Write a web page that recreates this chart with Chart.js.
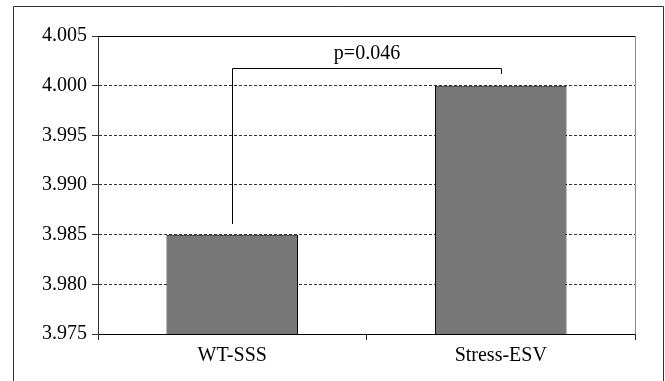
<!DOCTYPE html>
<html>
<head>
<meta charset="utf-8">
<script src="https://cdn.jsdelivr.net/npm/chart.js@4/dist/chart.umd.min.js"></script>
<style>
html,body{margin:0;padding:0;background:#fff;}
canvas{display:block;}
</style>
</head>
<body>
<canvas id="c" width="665" height="381"></canvas>
<script>
const categories = ["WT-SSS", "Stress-ESV"];
const values = [3.985, 4.000];
const yTicks = [3.975, 3.980, 3.985, 3.990, 3.995, 4.000, 4.005];
const pLabel = "p=0.046";
const bracketTop = 4.0018;
const bracketLeftEnd = 3.9861;
const bracketRightEnd = 4.0012;

const FONT = "'Liberation Serif', 'Times New Roman', serif";
Chart.defaults.font.family = FONT;
Chart.defaults.font.size = 20;
Chart.defaults.color = '#000';

const framePlugin = {
  id: 'frame',
  beforeDraw(chart) {
    const ctx = chart.ctx;
    ctx.save();
    ctx.fillStyle = '#fff';
    ctx.fillRect(0, 0, chart.width, chart.height);
    ctx.strokeStyle = '#333';
    ctx.lineWidth = 1;
    ctx.beginPath();
    ctx.moveTo(13.5, chart.height + 5);
    ctx.lineTo(13.5, 6.5);
    ctx.lineTo(663.5, 6.5);
    ctx.lineTo(663.5, chart.height + 5);
    ctx.stroke();
    ctx.restore();
  },
  afterDraw(chart) {
    const ctx = chart.ctx;
    const a = chart.chartArea;
    const xs = chart.scales.x, ys = chart.scales.y;
    ctx.save();
    ctx.lineWidth = 1;
    ctx.strokeStyle = '#000';
    ctx.beginPath();
    ctx.moveTo(Math.round(a.left) + 0.5, Math.round(a.top) + 0.5);
    ctx.lineTo(Math.round(a.right) + 0.5, Math.round(a.top) + 0.5);
    ctx.stroke();
    ctx.strokeStyle = '#888';
    ctx.beginPath();
    ctx.moveTo(Math.round(a.right) + 0.5, Math.round(a.top) + 0.5);
    ctx.lineTo(Math.round(a.right) + 0.5, Math.round(a.bottom) + 0.5);
    ctx.stroke();
    const x0 = Math.round(xs.getPixelForValue(0)) + 0.5;
    const x1 = Math.round(xs.getPixelForValue(1)) + 0.5;
    const yt = Math.round(ys.getPixelForValue(bracketTop)) + 0.5;
    const yl = Math.round(ys.getPixelForValue(bracketLeftEnd));
    const yr = Math.round(ys.getPixelForValue(bracketRightEnd));
    ctx.strokeStyle = '#000';
    ctx.beginPath();
    ctx.moveTo(x0, yl);
    ctx.lineTo(x0, yt);
    ctx.lineTo(x1, yt);
    ctx.lineTo(x1, yr);
    ctx.stroke();
    ctx.fillStyle = '#000';
    ctx.font = '20px ' + FONT;
    ctx.textAlign = 'center';
    ctx.textBaseline = 'alphabetic';
    ctx.fillText(pLabel, (x0 + x1) / 2, yt - 10);
    ctx.restore();
  }
};

new Chart(document.getElementById('c'), {
  type: 'bar',
  data: {
    labels: categories,
    datasets: [{
      data: values,
      backgroundColor: '#777777',
      borderColor: '#000',
      borderWidth: 1,
      borderSkipped: false,
      barPercentage: 0.49,
      categoryPercentage: 1.0
    }]
  },
  options: {
    responsive: false,
    animation: false,
    devicePixelRatio: 1,
    layout: { padding: { left: 0, top: 36, right: 30, bottom: 0 } },
    plugins: { legend: { display: false }, tooltip: { enabled: false } },
    scales: {
      x: {
        type: 'category',
        offset: true,
        grid: { offset: true, drawOnChartArea: false, drawTicks: true, tickLength: 6, tickColor: '#222', color: '#222' },
        border: { display: true, color: '#000', width: 1 },
        ticks: { color: '#000', font: { family: FONT, size: 20 }, padding: 4, maxRotation: 0 },
        afterFit(scale) { scale.height = 47; }
      },
      y: {
        type: 'linear',
        min: 3.975,
        max: 4.005,
        afterBuildTicks(scale) { scale.ticks = yTicks.map(v => ({ value: v })); },
        grid: {
          color: (ctx) => (ctx.index === 0 || ctx.index === yTicks.length - 1) ? 'rgba(0,0,0,0)' : '#333',
          tickColor: '#333',
          tickLength: 6,
          drawTicks: true
        },
        border: { display: true, color: '#333', width: 1, dash: [3, 2] },
        ticks: {
          color: '#000',
          font: { family: FONT, size: 20 },
          padding: 5,
          callback: (v) => Number(v).toFixed(3)
        },
        afterFit(scale) { scale.width = 98; }
      }
    }
  },
  plugins: [framePlugin]
});
</script>
</body>
</html>
